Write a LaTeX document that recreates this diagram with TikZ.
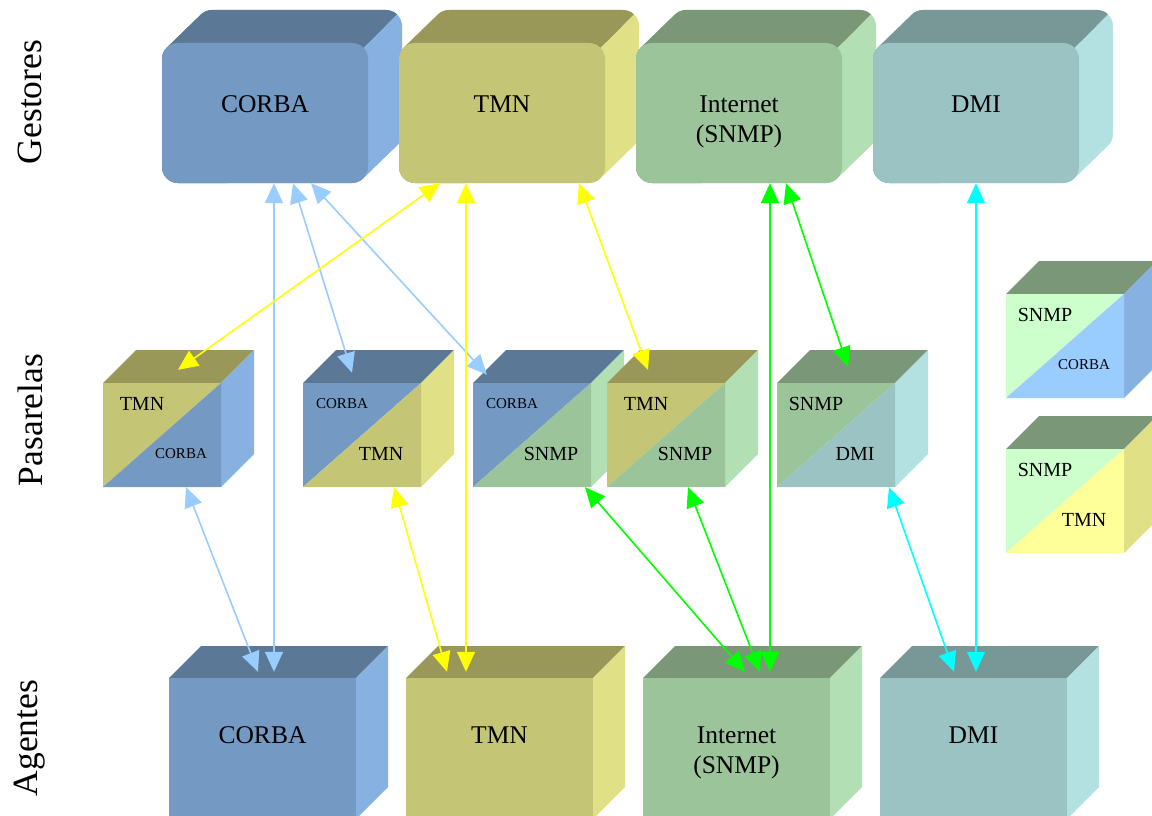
\documentclass[tikz,border=0pt]{standalone}
\usepackage{fontspec}
\setmainfont{Liberation Serif}
\usetikzlibrary{calc, arrows.meta}

% face colours: F front, T top, S side
\definecolor{cF}{HTML}{7499C3}\definecolor{cT}{HTML}{5B7896}\definecolor{cS}{HTML}{87B1E0}
\definecolor{tF}{HTML}{C5C576}\definecolor{tT}{HTML}{999858}\definecolor{tS}{HTML}{E0E086}
\definecolor{sF}{HTML}{9BC49B}\definecolor{sT}{HTML}{7A9878}\definecolor{sS}{HTML}{B2E0B4}
\definecolor{dF}{HTML}{9BC3C4}\definecolor{dT}{HTML}{789898}\definecolor{dS}{HTML}{B3E0E0}
\definecolor{slF}{HTML}{CCFFCC}\definecolor{slT}{HTML}{7A9878}
\definecolor{clF}{HTML}{99CCFF}\definecolor{clS}{HTML}{87B1E0}
\definecolor{tlF}{HTML}{FFFF99}\definecolor{tlS}{HTML}{E0E086}
% link colours
\definecolor{lcorba}{HTML}{99CCFF}\definecolor{ltmn}{HTML}{FFFF00}
\definecolor{lsnmp}{HTML}{00FF00}\definecolor{ldmi}{HTML}{00FFFF}

\newcommand\cb{{\fontsize{15}{18}\selectfont CORBA}}

% rounded block of the managers
\newcommand\gshape[1]{(#1+16,59) -- (#1+50,26) -- (#1+224,26) -- (#1+224,134) -- (#1+190,167) -- (#1+16,167) -- cycle}
\newcommand\gestor[4]{%
  \filldraw[#3S, line width=32pt, line join=round] \gshape{#2};
  \begin{scope}
    \clip (#2+306,-57) -- (#2-94,343) -- (#2-300,343) -- (#2-300,-57) -- cycle;
    \filldraw[#3T, line width=32pt, line join=round] \gshape{#2};
  \end{scope}
  \node[gface, fill=#3F] (#1) at (#2+103,113) {};
  \node[big, anchor=north] (#1l) at ($(#1.north)+(0,52.6)$) {#4};
}
% agents
\newcommand\agente[4]{%
  \fill[#3T] (#2,678) -- (#2+32,646) -- (#2+219,646) -- (#2+187,678) -- cycle;
  \fill[#3S] (#2+187,678) -- (#2+219,646) -- (#2+219,787) -- (#2+187,819) -- cycle;
  \node[aface, fill=#3F] (#1) at (#2+93.5,748.5) {};
  \node[big, anchor=north] (#1l) at ($(#1.north)+(0,48.6)$) {#4};
}
% gateways: upper-left protocol #4, lower-right protocol #5
\newcommand\pasarela[7]{%
  \fill[#4T] (#2,#3) -- ++(33,-33) -- ++(118,0) -- ++(-33,33) -- cycle;
  \fill[#5S] (#2+118,#3) -- ++(33,-33) -- ++(0,104) -- ++(-33,33) -- cycle;
  \fill[#4F] (#2,#3) -- ++(118,0) -- ++(-118,104) -- cycle;
  \fill[#5F] (#2+118,#3) -- ++(0,104) -- ++(-118,0) -- cycle;
  \node[pface] (#1) at (#2+59,#3+52) {};
  \node[small] (#1a) at (#2+39,#3+21) {#6};
  \node[small] (#1b) at (#2+78,#3+71) {#7};
}

\begin{document}
\begin{tikzpicture}[x=1pt, y=-1pt,
    gface/.style={rectangle, rounded corners=16pt, minimum width=206pt, minimum height=140pt, inner sep=0pt},
    aface/.style={rectangle, minimum width=187pt, minimum height=141pt, inner sep=0pt},
    pface/.style={rectangle, minimum width=118pt, minimum height=104pt, inner sep=0pt},
    big/.style={font=\fontsize{25.5}{30}\selectfont, align=center, inner sep=0pt},
    small/.style={font=\fontsize{20}{24}\selectfont, inner sep=0pt},
    row/.style={font=\fontsize{35.5}{38}\selectfont, rotate=90, inner sep=0pt},
    link/.style={line width=1.6pt, <->},
    >={Triangle[length=20pt,width=18pt]}]
  \useasboundingbox (0,0) rectangle (1152,816);
  \clip (0,0) rectangle (1152,816);

  \node[row] (lg) at (30,102) {Gestores};
  \node[row] (lp) at (30,420) {Pasarelas};
  \node[row] (la) at (30,738) {Agentes};

  \gestor{gc}{162}{c}{CORBA}
  \gestor{gt}{399}{t}{TMN}
  \gestor{gs}{636}{s}{Internet\\(SNMP)}
  \gestor{gd}{873}{d}{DMI}

  \pasarela{p1}{103}{383}{t}{c}{TMN}{\cb}
  \pasarela{p2}{303}{383}{c}{t}{\cb}{TMN}
  \pasarela{p3}{473}{383}{c}{s}{\cb}{SNMP}
  \pasarela{p4}{607}{383}{t}{s}{TMN}{SNMP}
  \pasarela{p5}{777}{383}{s}{d}{SNMP}{DMI}
  \pasarela{l1}{1006}{294}{sl}{cl}{SNMP}{\cb}
  \pasarela{l2}{1006}{449}{sl}{tl}{SNMP}{TMN}

  \agente{ac}{169}{c}{CORBA}
  \agente{at}{406}{t}{TMN}
  \agente{as}{643}{s}{Internet\\(SNMP)}
  \agente{ad}{880}{d}{DMI}

  % CORBA
  \draw[link, lcorba] ([xshift=9pt]gc.south) -- ([xshift=11.5pt,yshift=6pt]ac.north);
  \draw[link, lcorba] ([xshift=28pt]gc.south) -- ([xshift=-10pt,yshift=10pt]p2.north);
  \draw[link, lcorba] ([xshift=46pt]gc.south) -- ([xshift=-45pt,yshift=8pt]p3.north);
  \draw[link, lcorba] ([xshift=24pt]p1.south) -- ([xshift=-4.5pt,yshift=6pt]ac.north);
  % TMN
  \draw[link, ltmn] ([xshift=-62pt]gt.south) -- ([xshift=16pt,yshift=13pt]p1.north);
  \draw[link, ltmn] ([xshift=-36pt]gt.south) -- ([xshift=-33.5pt,yshift=6pt]at.north);
  \draw[link, ltmn] ([xshift=77pt]gt.south) -- ([xshift=-18pt,yshift=13pt]p4.north);
  \draw[link, ltmn] ([xshift=32pt]p2.south) -- ([xshift=-52.5pt,yshift=6pt]at.north);
  % SNMP
  \draw[link, lsnmp] ([xshift=31pt]gs.south) -- ([xshift=33.5pt,yshift=6pt]as.north);
  \draw[link, lsnmp] ([xshift=47pt]gs.south) -- ([xshift=12pt,yshift=16pt]p5.north);
  \draw[link, lsnmp] ([xshift=53pt]p3.south) -- ([xshift=8.5pt,yshift=6pt]as.north);
  \draw[link, lsnmp] ([xshift=22pt]p4.south) -- ([xshift=23.5pt,yshift=6pt]as.north);
  % DMI
  \draw[link, ldmi] (gd.south) -- ([xshift=2.5pt,yshift=6pt]ad.north);
  \draw[link, ldmi] ([xshift=53pt]p5.south) -- ([xshift=-19.5pt,yshift=6pt]ad.north);
\end{tikzpicture}
\end{document}
